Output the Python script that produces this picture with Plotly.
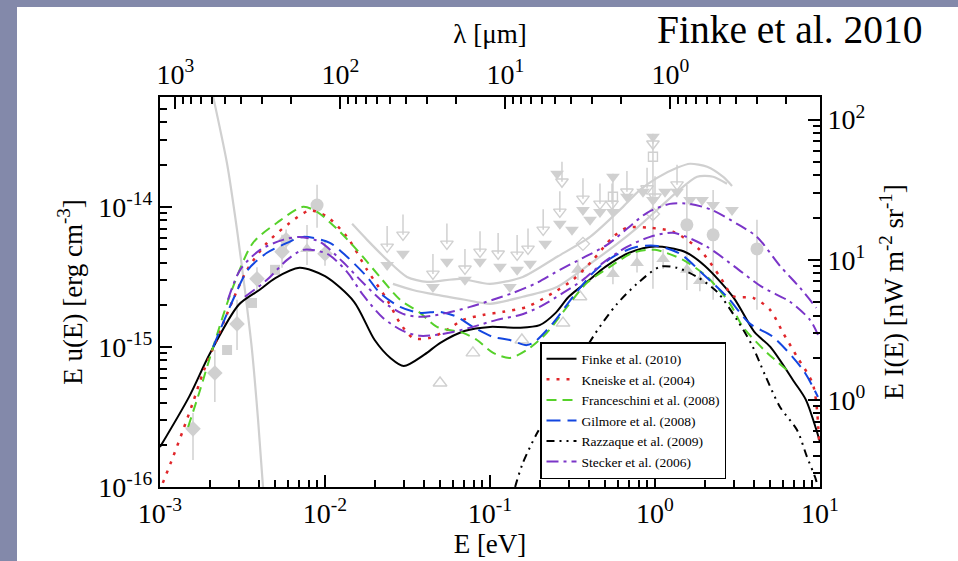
import math
import plotly.graph_objects as go

# ---------------- EBL model curves: E [eV] vs E u(E) [erg cm^-3] ----------------
E_finke = [1.0e-3, 1.5e-3, 2.0e-3, 3.0e-3, 4.0e-3, 5.0e-3, 7.0e-3, 1.0e-2, 1.5e-2, 2.0e-2,
           2.5e-2, 3.0e-2, 4.0e-2, 5.0e-2, 7.0e-2, 0.1, 0.15, 0.2, 0.25, 0.3, 0.4, 0.5, 0.7, 1.0,
           1.5, 2.0, 3.0, 4.0, 5.0, 7.0, 8.2, 10.0]
u_finke = [1.93e-16, 4.4e-16, 8.9e-16, 2.0e-15, 2.55e-15, 3.1e-15, 3.67e-15, 3.2e-15, 2.1e-15,
           1.12e-15, 8.3e-16, 7.3e-16, 8.8e-16, 1.07e-15, 1.3e-15, 1.39e-15, 1.37e-15, 1.43e-15,
           1.75e-15, 2.28e-15, 3.0e-15, 3.73e-15, 4.7e-15, 5.2e-15, 4.8e-15, 3.8e-15, 2.24e-15,
           1.28e-15, 1.0e-15, 5.6e-16, 4.2e-16, 2.1e-16]

E_kneiske = [1.04e-3, 1.2e-3, 1.38e-3, 1.58e-3, 1.82e-3, 2.1e-3, 2.77e-3, 3.37e-3, 4.45e-3,
             6.13e-3, 8.11e-3, 1.03e-2, 1.36e-2, 1.8e-2, 2.38e-2, 2.85e-2, 3.41e-2, 4.32e-2,
             5.48e-2, 6.86e-2, 9.07e-2, 0.12, 0.167, 0.241, 0.318, 0.421, 0.556, 0.676, 0.933,
             1.29, 1.87, 2.48, 2.97, 3.93, 4.98, 5.97, 7.26, 9.08, 9.86]
u_kneiske = [1.07e-16, 1.64e-16, 2.55e-16, 3.98e-16, 6.52e-16, 9.8e-16, 2.17e-15, 3.55e-15,
             5.53e-15, 7.69e-15, 9.4e-15, 8.49e-15, 6.1e-15, 3.55e-15, 2.17e-15, 1.48e-15,
             1.16e-15, 1.16e-15, 1.32e-15, 1.56e-15, 1.69e-15, 1.78e-15, 1.93e-15, 2.43e-15,
             3.01e-15, 4.18e-15, 6.1e-15, 7.08e-15, 7.08e-15, 6.63e-15, 4.93e-15, 3.16e-15,
             2.31e-15, 2.24e-15, 1.84e-15, 1.26e-15, 8.5e-16, 5.35e-16, 2.17e-16]

E_franc = [1.48e-3, 1.75e-3, 2.1e-3, 2.77e-3, 3.66e-3, 5.12e-3, 7.36e-3, 8.95e-3, 1.18e-2,
           1.56e-2, 2.15e-2, 2.85e-2, 3.77e-2, 4.77e-2, 6.86e-2, 8.34e-2, 0.104, 0.132, 0.167,
           0.221, 0.293, 0.387, 0.533, 0.736, 1.0, 1.48, 2.07, 2.85, 3.41, 4.77, 6.31]
u_franc = [2.68e-16, 4.93e-16, 1.0e-15, 2.68e-15, 5.53e-15, 7.69e-15, 1.0e-14, 9.2e-15, 6.97e-15,
           4.93e-15, 3.16e-15, 2.17e-15, 1.75e-15, 1.39e-15, 1.26e-15, 1.12e-15, 9.1e-16, 8.35e-16,
           9.5e-16, 1.26e-15, 1.93e-15, 2.87e-15, 3.73e-15, 4.7e-15, 4.93e-15, 4.18e-15, 3.16e-15,
           2.03e-15, 1.39e-15, 9.1e-16, 6.85e-16]

E_gilmore = [2.1e-3, 2.77e-3, 3.41e-3, 4.45e-3, 5.89e-3, 7.36e-3, 1.07e-2, 1.36e-2, 1.8e-2,
             2.15e-2, 2.85e-2, 3.77e-2, 4.98e-2, 6.31e-2, 7.88e-2, 0.104, 0.132, 0.167, 0.187,
             0.241, 0.318, 0.421, 0.556, 0.778, 1.03, 1.42, 1.95, 2.73, 3.77, 5.19, 7.89, 9.72]
u_gilmore = [1.0e-15, 2.17e-15, 3.55e-15, 4.7e-15, 5.53e-15, 6.1e-15, 5.53e-15, 4.4e-15, 3.16e-15,
             2.43e-15, 1.93e-15, 1.75e-15, 1.78e-15, 1.64e-15, 1.39e-15, 1.18e-15, 1.12e-15,
             1.03e-15, 1.09e-15, 1.48e-15, 2.28e-15, 3.38e-15, 4.4e-15, 5.18e-15, 5.26e-15,
             4.62e-15, 3.32e-15, 2.28e-15, 1.46e-15, 1.18e-15, 6.85e-16, 4.4e-16]

E_razzaque = [0.142, 0.146, 0.158, 0.193, 0.265, 0.421, 0.589, 0.778, 1.07, 1.36, 1.8, 2.38,
              3.14, 3.87, 4.64, 5.72, 7.26, 8.34, 9.33, 9.72]
u_razzaque = [1.0e-16, 1.12e-16, 1.48e-16, 2.43e-16, 4.54e-16, 1.18e-15, 2.03e-15, 2.82e-15,
              3.73e-15, 3.67e-15, 3.16e-15, 2.47e-15, 1.56e-15, 1.03e-15, 6.31e-16, 3.73e-16,
              2.55e-16, 1.64e-16, 1.18e-16, 1.0e-16]

# Stecker et al. (2006): fast-evolution (upper) and baseline (lower)
E_stecker_fe = [2.58e-3, 3.06e-3, 4.04e-3, 5.56e-3, 7.04e-3, 9.33e-3, 1.28e-2, 1.7e-2, 2.25e-2,
                2.97e-2, 3.93e-2, 5.48e-2, 7.57e-2, 0.104, 0.138, 0.193, 0.265, 0.366, 0.512,
                0.676, 0.895, 1.23, 1.63, 2.21, 3.14, 4.15, 5.72, 7.57, 9.5]
u_stecker_fe = [2.17e-15, 3.55e-15, 4.93e-15, 5.81e-15, 6.1e-15, 5.62e-15, 4.05e-15, 2.87e-15,
                2.1e-15, 1.72e-15, 1.64e-15, 1.75e-15, 1.93e-15, 2.17e-15, 2.43e-15, 2.87e-15,
                3.55e-15, 4.32e-15, 5.35e-15, 6.97e-15, 9.06e-15, 1.05e-14, 1.05e-14, 9.5e-15,
                7.56e-15, 6.1e-15, 3.79e-15, 2.64e-15, 1.9e-15]
E_stecker_be = [3.27e-3, 4.45e-3, 5.89e-3, 7.36e-3, 1.03e-2, 1.36e-2, 1.7e-2, 2.25e-2, 2.97e-2,
                3.77e-2, 4.77e-2, 5.97e-2, 7.88e-2, 0.110, 0.152, 0.2, 0.277, 0.366, 0.484,
                0.676, 0.933, 1.29, 2.07, 3.05, 4.45, 6.58, 8.69, 9.72]
u_stecker_be = [2.28e-15, 3.01e-15, 4.18e-15, 4.93e-15, 4.62e-15, 3.43e-15, 2.35e-15, 1.61e-15,
                1.3e-15, 1.2e-15, 1.22e-15, 1.28e-15, 1.39e-15, 1.56e-15, 1.69e-15, 1.93e-15,
                2.43e-15, 3.01e-15, 3.98e-15, 5.18e-15, 6.1e-15, 6.52e-15, 5.18e-15, 3.73e-15,
                2.68e-15, 2.1e-15, 1.56e-15, 1.22e-15]

# ---------------- measurements and limits (light grey) ----------------
E_cmb = [2.1e-3, 2.55e-3, 2.93e-3, 3.27e-3, 3.61e-3, 3.93e-3, 4.21e-3]
u_cmb = [6.1e-14, 2.03e-14, 6.85e-15, 2.55e-15, 9.5e-16, 3.01e-16, 1.0e-16]

E_galA = [1.46e-2, 1.8e-2, 2.38e-2, 3.14e-2, 4.15e-2, 6.58e-2, 0.1, 0.158, 0.255, 0.404, 0.64,
          0.811, 1.03, 1.36, 1.63, 2.07, 2.58, 2.93]
u_galA = [7.56e-15, 5.81e-15, 4.18e-15, 3.16e-15, 2.91e-15, 3.06e-15, 2.82e-15, 3.16e-15,
          4.4e-15, 6.1e-15, 1.0e-14, 1.32e-14, 1.61e-14, 1.9e-14, 2.03e-14, 1.93e-14, 1.64e-14,
          1.41e-14]
E_galB = [2.58e-2, 3.41e-2, 4.77e-2, 7.05e-2, 0.1, 0.158, 0.255, 0.404, 0.589, 0.778, 1.03,
          1.36, 1.8, 2.25, 2.73]
u_galB = [2.82e-15, 2.55e-15, 2.35e-15, 2.17e-15, 2.03e-15, 2.28e-15, 2.68e-15, 3.92e-15,
          5.44e-15, 7.08e-15, 9.5e-15, 1.28e-14, 1.64e-14, 1.64e-14, 1.46e-14]

E_circ = [8.95e-3, 1.56, 2.25, 4.15]
u_circ = [1.03e-14, 7.44e-15, 6.31e-15, 5.01e-15]
lo_circ = [7.08e-15, 2.55e-15, 2.17e-15, 1.84e-15]
hi_circ = [1.44e-14, 1.44e-14, 1.32e-14, 8.07e-15]

E_diam = [1.585e-3, 2.15e-3, 2.93e-3, 3.87e-3, 5.49e-3, 5.81e-3, 1.0e-2]
u_diam = [2.6e-16, 6.52e-16, 1.46e-15, 3.06e-15, 4.77e-15, 5.81e-15, 4.62e-15]
lo_diam = [1.56e-16, 4.05e-16, 9.5e-16, 2.5e-15, 3.67e-15, 4.9e-15, 3.8e-15]
hi_diam = [3.38e-16, 9.52e-16, 2.17e-15, 3.7e-15, 6.31e-15, 6.9e-15, 5.6e-15]

E_sq = [2.55e-3, 3.61e-3, 4.98e-3]
u_sq = [9.5e-16, 2.06e-15, 3.55e-15]

E_tup = [7.78e-3, 0.341, 0.556, 0.778, 1.12, 1.56, 1.87]
u_tup = [5.01e-15, 3.55e-15, 3.32e-15, 3.98e-15, 4.25e-15, 3.55e-15, 2.96e-15]
lo_tup = [3.85e-15, 3.0e-15, 2.8e-15, 3.4e-15, 3.6e-15, 3.0e-15, 2.5e-15]
hi_tup = [7.43e-15, 4.2e-15, 3.9e-15, 4.7e-15, 5.0e-15, 4.2e-15, 3.5e-15]

E_tup_open = [4.98e-2, 7.88e-2, 0.156, 0.277, 0.351]
u_tup_open = [5.53e-16, 9.06e-16, 1.12e-15, 1.48e-15, 2.28e-15]

E_tdn = [2.38e-2, 2.97e-2, 4.51e-2, 5.48e-2, 7.05e-2, 8.7e-2, 0.115, 0.132, 0.146, 0.175, 0.216,
         0.255, 0.265, 0.314, 0.366, 0.404, 0.464, 0.556, 0.556, 0.676, 0.846, 0.972, 0.972,
         1.15, 1.36, 1.63, 1.93, 2.25, 2.93]
u_tdn = [3.85e-15, 4.62e-15, 2.68e-15, 4.05e-15, 3.01e-15, 4.05e-15, 3.73e-15, 2.68e-15,
         3.55e-15, 3.92e-15, 5.44e-15, 1.72e-14, 7.56e-15, 6.85e-15, 9.5e-15, 8.07e-15, 9.2e-15,
         1.64e-14, 9.2e-15, 1.18e-14, 1.28e-14, 3.16e-14, 1.12e-14, 1.28e-14, 1.28e-14, 1.12e-14,
         1.12e-14, 1.03e-14, 9.5e-15]

# upper limits: arrow head value and top of the stem
E_lim = [2.38e-2, 2.97e-2, 4.51e-2, 5.48e-2, 7.05e-2, 8.7e-2, 0.112, 0.146, 0.17, 0.21, 0.265,
         0.273, 0.366, 0.464, 0.549, 0.676, 0.895, 0.972, 1.0, 1.36]
u_lim = [5.18e-15, 6.31e-15, 3.32e-15, 5.44e-15, 3.61e-15, 4.77e-15, 4.62e-15, 4.54e-15,
         5.01e-15, 6.85e-15, 9.2e-15, 1.51e-14, 1.14e-14, 1.05e-14, 1.05e-14, 1.28e-14, 1.35e-14,
         2.82e-14, 1.18e-14, 1.44e-14]
top_lim = [7.3e-15, 8.8e-15, 4.6e-15, 7.6e-15, 5.0e-15, 6.7e-15, 6.5e-15, 6.3e-15, 7.0e-15,
           9.6e-15, 1.29e-14, 2.1e-14, 1.6e-14, 1.47e-14, 1.47e-14, 1.8e-14, 1.9e-14, 3.3e-14,
           1.65e-14, 2.0e-14]

E_sq_open = [0.556, 0.972]
u_sq_open = [1.18e-14, 2.28e-14]
lo_sq_open = [6.1e-15, 2.6e-15]
hi_sq_open = [1.72e-14, 3.32e-14]

E_diam_open = [0.366, 0.972]
u_diam_open = [5.44e-15, 8.9e-15]

# ---------------- tick labels ----------------
E_ticks = [1e-3, 1e-2, 1e-1, 1e0, 1e1]
E_ticktext = ["10<sup>-3</sup>", "10<sup>-2</sup>", "10<sup>-1</sup>", "10<sup>0</sup>", "10<sup>1</sup>"]
lam_ticks = [1e3, 1e2, 1e1, 1e0]
lam_ticktext = ["10<sup>3</sup>", "10<sup>2</sup>", "10<sup>1</sup>", "10<sup>0</sup>"]
u_ticks = [1e-16, 1e-15, 1e-14]
u_ticktext = ["10<sup>-16</sup>", "10<sup>-15</sup>", "10<sup>-14</sup>"]
I_ticks = [1e0, 1e1, 1e2]
I_ticktext = ["10<sup>0</sup>", "10<sup>1</sup>", "10<sup>2</sup>"]

# unit conversions for the secondary axes
HC_EV_UM = 1.23984      # lambda [um] = HC / E [eV]
U_TO_NW = 2.3873e15     # E I(E) [nW m^-2 sr^-1] = c/(4 pi) * E u(E) [erg cm^-3]

E_MIN, E_MAX = 1e-3, 1e1
LOG_U_MIN, LOG_U_MAX = -16.0, -13.216

GRAY = "#d0d0d0"
SLATE = "#8389aa"
SERIF = "Liberation Serif, Times New Roman, serif"

fig = go.Figure()


def add_gray(E, u, symbol, size, lo=None, hi=None, open_=False):
    err = None
    if lo is not None:
        err = dict(type="data", symmetric=False,
                   array=[h - v for v, h in zip(u, hi)],
                   arrayminus=[v - l for v, l in zip(u, lo)],
                   color=GRAY, thickness=1.5, width=0)
    marker = dict(symbol=symbol, size=size, color=GRAY)
    if open_:
        marker["line"] = dict(color=GRAY, width=1.4)
    fig.add_trace(go.Scatter(x=E, y=u, mode="markers", marker=marker, error_y=err,
                             showlegend=False, hoverinfo="skip"))


# grey curves
for E, u in [(E_cmb, u_cmb), (E_galA, u_galA), (E_galB, u_galB)]:
    fig.add_trace(go.Scatter(x=E, y=u, mode="lines",
                             line=dict(color=GRAY, width=2.2, shape="spline", smoothing=0.7),
                             showlegend=False, hoverinfo="skip"))

# grey data points
fig.add_trace(go.Scatter(x=E_lim, y=u_lim, mode="markers",
                         marker=dict(symbol="triangle-down-open", size=11, color=GRAY,
                                     line=dict(color=GRAY, width=1.4)),
                         error_y=dict(type="data", symmetric=False,
                                      array=[t - v for v, t in zip(u_lim, top_lim)],
                                      arrayminus=[0] * len(u_lim),
                                      color=GRAY, thickness=1.5, width=0),
                         showlegend=False, hoverinfo="skip"))
add_gray(E_tdn, u_tdn, "triangle-down", 12)
add_gray(E_tup, u_tup, "triangle-up", 12, lo_tup, hi_tup)
add_gray(E_tup_open, u_tup_open, "triangle-up-open", 12, open_=True)
add_gray(E_sq_open, u_sq_open, "square-open", 9, lo_sq_open, hi_sq_open, open_=True)
add_gray(E_diam_open, u_diam_open, "diamond-open", 10, open_=True)
add_gray(E_circ, u_circ, "circle", 13, lo_circ, hi_circ)
add_gray(E_diam, u_diam, "diamond", 12, lo_diam, hi_diam)
add_gray(E_sq, u_sq, "square", 10)

# model curves
models = [
    ("Finke et al. (2010)", E_finke, u_finke, "#000000", "solid", 2.0, True),
    ("Kneiske et al. (2004)", E_kneiske, u_kneiske, "#e0262a", "3px,7px", 2.5, True),
    ("Franceschini et al. (2008)", E_franc, u_franc, "#56d12a", "10px,6px", 2.0, True),
    ("Gilmore et al. (2008)", E_gilmore, u_gilmore, "#1346e0", "14px,7px", 2.0, True),
    ("Razzaque et al. (2009)", E_razzaque, u_razzaque, "#000000", "8px,5px,2px,5px,2px,5px", 2.0, True),
    ("Stecker et al. (2006)", E_stecker_fe, u_stecker_fe, "#7b35c8", "12px,5px,3px,5px", 2.0, True),
    ("Stecker et al. (2006)", E_stecker_be, u_stecker_be, "#7b35c8", "12px,5px,3px,5px", 2.0, False),
]
for name, E, u, color, dash, lw, show in models:
    fig.add_trace(go.Scatter(x=E, y=u, mode="lines", name=name, legendgroup=name,
                             showlegend=show,
                             line=dict(color=color, width=lw, dash=dash,
                                       shape="spline", smoothing=0.8),
                             hoverinfo="skip"))

# the Finke curve mapped onto the wavelength / intensity axes (keeps them active)
fig.add_trace(go.Scatter(x=[HC_EV_UM / e for e in E_finke], y=[U_TO_NW * v for v in u_finke],
                         xaxis="x2", yaxis="y2", mode="lines", line=dict(width=0),
                         opacity=0, showlegend=False, hoverinfo="skip"))

# minor tick positions
E_minor = [k * 10.0 ** d for d in range(-3, 1) for k in range(2, 10)]
lam_minor = [k * 10.0 ** d for d in range(-1, 3) for k in range(2, 10)
             if HC_EV_UM / E_MAX < k * 10.0 ** d < HC_EV_UM / E_MIN]
u_minor = [k * 10.0 ** d for d in range(-16, -13) for k in range(2, 10)
           if k * 10.0 ** d < 10 ** LOG_U_MAX]
I_minor = [k * 10.0 ** d for d in range(-1, 3) for k in range(2, 10)
           if 10 ** LOG_U_MIN * U_TO_NW < k * 10.0 ** d < 10 ** LOG_U_MAX * U_TO_NW]

tickfont = dict(family=SERIF, size=28, color="black")
titlefont = dict(family=SERIF, size=27, color="black")


def axis_style(ticks, text, minor):
    return dict(type="log", showgrid=False, zeroline=False, showline=True,
                linecolor="black", linewidth=2, ticks="inside", ticklen=12,
                tickwidth=2, tickcolor="black", tickvals=ticks, ticktext=text,
                tickfont=tickfont,
                minor=dict(ticks="inside", ticklen=7, tickwidth=1.5,
                           tickcolor="black", tickvals=minor, showgrid=False))


xa = axis_style(E_ticks, E_ticktext, E_minor)
xa.update(range=[math.log10(E_MIN), math.log10(E_MAX)],
          title=dict(text="E [eV]", font=titlefont, standoff=0))
xa2 = axis_style(lam_ticks, lam_ticktext, lam_minor)
xa2.update(overlaying="x", side="top", anchor="y",
           range=[math.log10(HC_EV_UM / E_MIN), math.log10(HC_EV_UM / E_MAX)],
           title=dict(text="λ [μm]", font=titlefont, standoff=4))
ya = axis_style(u_ticks, u_ticktext, u_minor)
ya.update(range=[LOG_U_MIN, LOG_U_MAX],
          title=dict(text="E u(E) [erg cm<sup>-3</sup>]", font=titlefont, standoff=8))
ya2 = axis_style(I_ticks, I_ticktext, I_minor)
ya2.update(overlaying="y", side="right", anchor="x",
           range=[LOG_U_MIN + math.log10(U_TO_NW), LOG_U_MAX + math.log10(U_TO_NW)],
           title=dict(text="E I(E) [nW m<sup>-2</sup> sr<sup>-1</sup>]", font=titlefont,
                      standoff=20))

# page geometry (plot area spans 160..820 px across, 97..487 px down)
PX_L, PX_R, PX_T, PX_B = 160, 820, 97, 487
W, H = 958, 561


def px_x(p):
    return (p - PX_L) / (PX_R - PX_L)


def px_y(p):
    return (PX_B - p) / (PX_B - PX_T)


fig.update_layout(
    width=W, height=H,
    margin=dict(l=PX_L, r=W - PX_R, t=PX_T, b=H - PX_B, autoexpand=False),
    paper_bgcolor="white", plot_bgcolor="white",
    xaxis=xa, xaxis2=xa2, yaxis=ya, yaxis2=ya2,
    hovermode=False,
    legend=dict(x=px_x(540), y=px_y(342), xanchor="left", yanchor="top",
                bgcolor="white", bordercolor="black", borderwidth=1.5,
                font=dict(family=SERIF, size=13.5, color="black"),
                tracegroupgap=0, itemwidth=30),
    # slate frame along the top and left edges of the page
    shapes=[dict(type="rect", xref="paper", yref="paper",
                 x0=px_x(0), x1=px_x(W), y0=px_y(7), y1=px_y(0),
                 fillcolor=SLATE, line=dict(width=0), layer="below"),
            dict(type="rect", xref="paper", yref="paper",
                 x0=px_x(0), x1=px_x(17), y0=px_y(H), y1=px_y(0),
                 fillcolor=SLATE, line=dict(width=0), layer="below")],
    annotations=[dict(text="Finke et al. 2010", xref="paper", yref="paper",
                      x=px_x(790), y=px_y(30), xanchor="center", yanchor="middle",
                      showarrow=False,
                      font=dict(family=SERIF, size=39.5, color="black"))],
)

fig.write_html("out.html", config={"displayModeBar": False})
